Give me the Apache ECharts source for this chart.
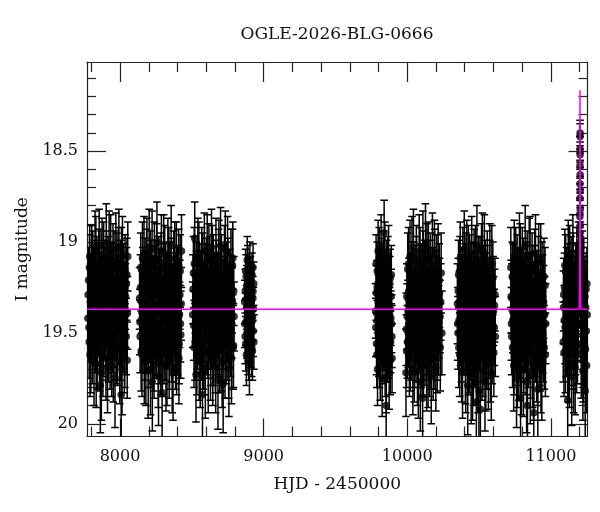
<!DOCTYPE html>
<html>
<head>
<meta charset="utf-8">
<script src="https://cdn.jsdelivr.net/npm/echarts@6/dist/echarts.min.js"></script>
<style>
html,body{margin:0;padding:0;background:#fff;}
#chart{width:600px;height:512px;}
</style>
</head>
<body>
<div id="chart"></div>
<script>
// ---- data: [HJD-2450000, I mag, error] ----
var season1 = [[7776,19.42,0.16],[7781,19.21,0.18],[7785,19.55,0.2],[7789,19.08,0.17],[7793,19.33,0.19],[7797,19.61,0.22],[7801,19.27,0.16],[7806,19.46,0.2],[7810,19.12,0.18],[7815,19.38,0.17],[7819,19.66,0.24],[7823,19.19,0.2],[7828,19.51,0.21],[7832,19.05,0.19],[7837,19.31,0.16],[7841,19.58,0.23],[7846,19.24,0.18],[7850,19.44,0.19],[7855,19.02,0.2],[7859,19.36,0.17],[7863,19.79,0.26],[7868,19.15,0.21],[7872,19.49,0.19],[7877,19.28,0.18],[7881,19.63,0.22],[7886,19.09,0.2],[7890,19.40,0.16],[7895,19.22,0.19],[7899,19.55,0.21],[7904,19.01,0.22],[7908,19.34,0.17],[7913,19.69,0.25],[7917,19.17,0.2],[7922,19.47,0.18],[7926,19.26,0.19],[7931,19.59,0.22],[7935,19.06,0.21],[7940,19.39,0.17],[7944,19.21,0.2],[7949,19.53,0.19],[7953,19.64,0.24],[7958,19.13,0.19],[7962,19.44,0.18],[7967,19.30,0.16],[7971,19.04,0.2],[7976,19.57,0.21],[7980,19.25,0.18],[7985,19.48,0.2],[7989,19.11,0.19],[7994,19.36,0.17],[7998,19.66,0.23],[8003,19.19,0.2],[8008,19.84,0.27],[8012,19.42,0.18],[8017,19.07,0.21],[8021,19.52,0.2],[8026,19.28,0.17],[8030,19.61,0.22],[8035,19.15,0.19],[8040,19.40,0.18],[8045,19.23,0.2],[8050,19.65,0.21],[8054,19.08,0.19]];
var season1b = [[7778,19.29,0.17],[7783,19.47,0.19],[7787,19.14,0.18],[7791,19.62,0.23],[7795,19.24,0.17],[7799,19.41,0.18],[7803,19.10,0.19],[7808,19.57,0.21],[7812,19.32,0.17],[7817,19.20,0.18],[7821,19.45,0.19],[7826,19.03,0.2],[7830,19.37,0.17],[7834,19.67,0.24],[7839,19.16,0.19],[7843,19.50,0.2],[7848,19.33,0.17],[7852,19.12,0.19],[7857,19.60,0.22],[7861,19.27,0.18],[7866,19.43,0.18],[7870,19.72,0.26],[7875,19.07,0.2],[7879,19.38,0.17],[7884,19.54,0.2],[7888,19.18,0.19],[7893,19.46,0.18],[7897,19.31,0.17],[7902,19.64,0.23],[7906,19.13,0.19],[7911,19.41,0.18],[7915,19.25,0.18],[7920,19.56,0.21],[7924,19.04,0.21],[7929,19.35,0.17],[7933,19.48,0.19],[7938,19.19,0.19],[7942,19.62,0.23],[7947,19.29,0.17],[7951,19.10,0.2],[7956,19.50,0.19],[7960,19.37,0.17],[7965,19.75,0.27],[7969,19.22,0.18],[7974,19.45,0.18],[7978,19.15,0.2],[7983,19.58,0.21],[7987,19.33,0.17],[7992,19.03,0.21],[7996,19.43,0.18],[8001,19.26,0.18],[8005,19.55,0.21],[8010,19.12,0.2],[8014,19.70,0.25],[8019,19.35,0.17],[8024,19.20,0.19],[8028,19.46,0.19],[8033,19.58,0.22],[8038,19.30,0.18],[8043,19.52,0.21],[8048,19.18,0.2],[8052,19.39,0.2]];
var season2 = [[8136,19.31,0.17],[8140,19.52,0.2],[8144,19.14,0.19],[8149,19.43,0.18],[8153,19.62,0.23],[8158,19.22,0.19],[8162,19.37,0.16],[8167,19.06,0.2],[8171,19.55,0.21],[8176,19.29,0.18],[8180,19.66,0.24],[8185,19.12,0.19],[8189,19.46,0.2],[8194,19.25,0.17],[8198,19.58,0.22],[8203,19.03,0.21],[8207,19.39,0.18],[8212,19.70,0.25],[8216,19.18,0.19],[8221,19.49,0.2],[8225,19.77,0.27],[8230,19.27,0.17],[8234,19.60,0.22],[8239,19.09,0.2],[8243,19.41,0.18],[8248,19.21,0.19],[8252,19.54,0.21],[8257,19.00,0.22],[8261,19.35,0.17],[8266,19.67,0.24],[8270,19.16,0.19],[8275,19.45,0.18],[8279,19.28,0.2],[8284,19.61,0.23],[8288,19.05,0.2],[8293,19.83,0.28],[8297,19.38,0.17],[8302,19.20,0.19],[8306,19.57,0.21],[8311,19.11,0.2],[8315,19.44,0.18],[8320,19.68,0.25],[8324,19.26,0.18],[8329,19.50,0.2],[8333,19.08,0.21],[8338,19.33,0.17],[8342,19.63,0.23],[8347,19.19,0.19],[8351,19.47,0.2],[8356,19.02,0.22],[8360,19.56,0.21],[8365,19.30,0.18],[8369,19.72,0.26],[8374,19.14,0.2],[8378,19.42,0.19],[8383,19.24,0.18],[8387,19.59,0.22],[8392,19.10,0.21],[8396,19.36,0.17],[8401,19.53,0.2],[8405,19.21,0.19],[8410,19.64,0.25],[8414,19.40,0.18],[8419,19.16,0.2],[8423,19.51,0.24],[8428,19.05,0.2]];
var season2b = [[8138,19.44,0.18],[8142,19.25,0.18],[8147,19.60,0.22],[8151,19.33,0.17],[8156,19.09,0.2],[8160,19.51,0.2],[8165,19.27,0.17],[8169,19.65,0.24],[8174,19.17,0.19],[8178,19.40,0.18],[8183,19.52,0.2],[8187,19.07,0.2],[8192,19.36,0.17],[8196,19.71,0.26],[8201,19.23,0.18],[8205,19.47,0.19],[8210,19.13,0.19],[8214,19.58,0.22],[8219,19.31,0.17],[8223,19.04,0.21],[8228,19.44,0.18],[8232,19.26,0.18],[8237,19.63,0.23],[8241,19.18,0.19],[8246,19.39,0.17],[8250,19.53,0.2],[8255,19.10,0.2],[8259,19.47,0.19],[8264,19.30,0.17],[8268,19.74,0.27],[8273,19.22,0.18],[8277,19.57,0.21],[8282,19.35,0.17],[8286,19.14,0.19],[8291,19.49,0.19],[8295,19.62,0.23],[8300,19.28,0.17],[8304,19.06,0.21],[8309,19.42,0.18],[8313,19.55,0.21],[8318,19.19,0.19],[8322,19.37,0.17],[8327,19.66,0.24],[8331,19.24,0.18],[8336,19.48,0.19],[8340,19.12,0.2],[8345,19.59,0.22],[8349,19.32,0.17],[8354,19.44,0.18],[8358,19.17,0.19],[8363,19.69,0.25],[8367,19.38,0.17],[8372,19.27,0.18],[8376,19.53,0.2],[8381,19.09,0.2],[8385,19.46,0.19],[8390,19.33,0.17],[8394,19.61,0.23],[8399,19.22,0.19],[8403,19.41,0.18],[8408,19.13,0.2],[8412,19.56,0.22],[8417,19.29,0.19],[8421,19.45,0.21],[8426,19.34,0.2]];
var season3 = [[8506,19.40,0.18],[8511,19.17,0.2],[8515,19.58,0.22],[8520,18.98,0.2],[8524,19.33,0.17],[8529,19.73,0.26],[8533,19.24,0.19],[8538,19.50,0.2],[8542,19.08,0.21],[8547,19.44,0.18],[8551,19.63,0.24],[8556,19.20,0.19],[8560,19.37,0.17],[8565,19.55,0.21],[8569,19.12,0.2],[8574,19.84,0.28],[8578,19.29,0.18],[8583,19.47,0.19],[8587,19.05,0.21],[8592,19.61,0.23],[8596,19.35,0.17],[8601,19.18,0.2],[8605,19.52,0.21],[8610,19.27,0.18],[8614,19.68,0.26],[8619,19.10,0.2],[8623,19.42,0.19],[8628,19.22,0.18],[8632,19.57,0.22],[8637,19.03,0.21],[8641,19.39,0.17],[8646,19.65,0.25],[8650,19.15,0.19],[8655,19.48,0.2],[8659,19.31,0.18],[8664,19.60,0.23],[8668,19.07,0.2],[8673,19.44,0.19],[8677,19.25,0.18],[8682,19.76,0.27],[8686,19.13,0.2],[8691,19.53,0.21],[8695,19.34,0.17],[8700,19.02,0.21],[8704,19.59,0.23],[8709,19.21,0.19],[8713,19.46,0.2],[8718,19.78,0.27],[8722,19.28,0.18],[8727,19.11,0.2],[8731,19.62,0.24],[8736,19.38,0.18],[8740,19.19,0.19],[8745,19.54,0.22],[8749,19.06,0.2],[8754,19.42,0.18],[8758,19.70,0.26],[8763,19.26,0.19],[8767,19.49,0.2],[8772,19.14,0.21],[8776,19.64,0.25],[8781,19.32,0.18],[8785,19.09,0.2],[8790,19.57,0.23],[8794,19.41,0.19]];
var season3b = [[8508,19.26,0.19],[8513,19.46,0.19],[8517,19.12,0.2],[8522,19.55,0.21],[8526,19.36,0.17],[8531,19.19,0.19],[8535,19.61,0.23],[8540,19.30,0.17],[8544,19.48,0.19],[8549,19.09,0.2],[8553,19.41,0.18],[8558,19.66,0.25],[8562,19.23,0.18],[8567,19.52,0.2],[8571,19.34,0.17],[8576,19.14,0.19],[8580,19.59,0.22],[8585,19.28,0.17],[8589,19.44,0.18],[8594,19.71,0.26],[8598,19.20,0.19],[8603,19.38,0.17],[8607,19.06,0.21],[8612,19.54,0.21],[8616,19.32,0.17],[8621,19.47,0.19],[8625,19.16,0.19],[8630,19.63,0.24],[8634,19.27,0.18],[8639,19.50,0.2],[8643,19.11,0.2],[8648,19.40,0.18],[8652,19.57,0.22],[8657,19.24,0.18],[8661,19.36,0.17],[8666,19.69,0.25],[8670,19.18,0.19],[8675,19.53,0.2],[8679,19.31,0.17],[8684,19.45,0.19],[8688,19.08,0.2],[8693,19.60,0.23],[8697,19.26,0.18],[8702,19.43,0.18],[8706,19.15,0.19],[8711,19.66,0.25],[8715,19.35,0.17],[8720,19.50,0.2],[8724,19.21,0.19],[8729,19.40,0.18],[8733,19.04,0.21],[8738,19.56,0.22],[8742,19.29,0.18],[8747,19.47,0.19],[8751,19.17,0.19],[8756,19.62,0.24],[8760,19.37,0.17],[8765,19.23,0.19],[8769,19.53,0.21],[8774,19.30,0.18],[8778,19.45,0.19],[8783,19.13,0.2],[8788,19.58,0.23],[8792,19.27,0.19]];
var season4 = [[8868,19.33,0.12],[8871,19.52,0.15],[8874,19.16,0.12],[8877,19.44,0.13],[8880,19.62,0.17],[8883,19.25,0.12],[8886,19.10,0.13],[8889,19.38,0.12],[8892,19.57,0.16],[8895,19.21,0.12],[8898,19.47,0.14],[8901,19.66,0.18],[8904,19.13,0.13],[8907,19.35,0.12],[8910,19.54,0.15],[8913,19.28,0.12],[8916,19.42,0.13],[8919,19.18,0.12],[8922,19.60,0.16],[8925,19.31,0.12],[8928,19.49,0.14],[8931,19.23,0.12]];
var season4b = [[8869,19.45,0.13],[8872,19.27,0.12],[8875,19.56,0.15],[8878,19.19,0.12],[8881,19.36,0.12],[8884,19.50,0.14],[8887,19.30,0.12],[8890,19.15,0.13],[8893,19.43,0.13],[8896,19.60,0.16],[8899,19.24,0.12],[8902,19.39,0.12],[8905,19.52,0.15],[8908,19.20,0.12],[8911,19.46,0.13],[8914,19.33,0.12],[8917,19.58,0.16],[8920,19.26,0.12],[8923,19.41,0.13],[8926,19.14,0.13],[8929,19.37,0.12],[8932,19.55,0.15]];
var season5 = [[9779,19.38,0.15],[9783,19.12,0.16],[9786,19.56,0.17],[9790,19.25,0.15],[9793,19.70,0.2],[9797,19.05,0.17],[9800,19.44,0.15],[9804,19.31,0.15],[9807,19.62,0.18],[9811,19.18,0.16],[9814,19.49,0.16],[9818,19.02,0.17],[9821,19.36,0.15],[9825,19.75,0.21],[9828,19.22,0.15],[9832,19.53,0.17],[9835,19.10,0.16],[9839,18.95,0.18],[9842,19.41,0.15],[9846,19.66,0.19],[9849,19.28,0.15],[9853,19.90,0.22],[9856,19.15,0.16],[9860,19.47,0.16],[9863,19.59,0.18],[9867,19.33,0.15],[9870,19.08,0.17],[9874,19.72,0.2],[9877,19.40,0.15],[9881,19.20,0.16],[9884,19.55,0.17],[9888,19.30,0.15],[9891,19.45,0.16],[9894,19.64,0.19]];
var season5b = [[9781,19.47,0.16],[9784,19.28,0.15],[9788,19.62,0.18],[9791,19.16,0.16],[9795,19.42,0.15],[9798,19.33,0.15],[9802,19.57,0.17],[9805,19.09,0.17],[9809,19.38,0.15],[9812,19.68,0.19],[9816,19.25,0.15],[9819,19.51,0.16],[9823,19.14,0.16],[9826,19.44,0.15],[9830,19.60,0.18],[9833,19.30,0.15],[9837,19.20,0.16],[9840,19.54,0.17],[9844,19.06,0.17],[9847,19.37,0.15],[9851,19.48,0.16],[9854,19.74,0.2],[9858,19.26,0.15],[9861,19.40,0.15],[9865,19.13,0.16],[9868,19.58,0.17],[9872,19.34,0.15],[9875,19.50,0.16],[9879,19.23,0.15],[9882,19.65,0.19],[9886,19.42,0.15],[9889,19.18,0.16],[9893,19.52,0.17]];
var season6 = [[9991,19.72,0.24],[9995,19.60,0.2],[9999,19.41,0.18],[10003,19.15,0.2],[10007,19.50,0.19],[10011,19.27,0.18],[10015,19.63,0.22],[10019,19.08,0.2],[10023,19.36,0.17],[10027,19.55,0.21],[10031,19.19,0.19],[10035,19.45,0.18],[10039,19.70,0.25],[10043,19.03,0.21],[10047,19.32,0.17],[10051,19.58,0.22],[10055,19.23,0.19],[10059,19.48,0.2],[10063,19.11,0.2],[10067,19.39,0.18],[10071,19.66,0.24],[10075,19.26,0.18],[10079,19.52,0.2],[10083,19.06,0.21],[10087,19.43,0.18],[10091,19.77,0.27],[10095,19.20,0.19],[10099,19.35,0.17],[10103,19.61,0.23],[10107,19.86,0.28],[10111,19.14,0.2],[10115,19.47,0.19],[10119,19.29,0.18],[10123,19.57,0.22],[10127,19.01,0.22],[10131,19.40,0.18],[10135,19.68,0.25],[10139,19.22,0.19],[10143,19.53,0.2],[10147,19.09,0.2],[10151,19.34,0.17],[10155,19.62,0.23],[10159,19.18,0.19],[10163,19.46,0.19],[10167,19.74,0.26],[10171,19.25,0.18],[10175,19.05,0.21],[10179,19.51,0.2],[10183,19.31,0.17],[10187,19.59,0.22],[10191,19.13,0.2],[10195,19.42,0.18],[10199,19.69,0.24],[10203,19.24,0.19],[10207,19.37,0.17],[10211,19.55,0.21],[10215,19.10,0.2],[10220,19.44,0.2],[10225,19.28,0.19],[10230,19.58,0.24],[10236,19.17,0.22],[10241,19.50,0.23]];
var season6b = [[9993,19.48,0.2],[9997,19.30,0.18],[10001,19.55,0.2],[10005,19.38,0.17],[10009,19.12,0.2],[10013,19.45,0.18],[10017,19.33,0.17],[10021,19.60,0.22],[10025,19.24,0.18],[10029,19.42,0.18],[10033,19.07,0.21],[10037,19.53,0.2],[10041,19.36,0.17],[10045,19.19,0.19],[10049,19.64,0.24],[10053,19.41,0.18],[10057,19.28,0.17],[10061,19.56,0.21],[10065,19.16,0.19],[10069,19.46,0.19],[10073,19.33,0.17],[10077,19.71,0.26],[10081,19.21,0.19],[10085,19.50,0.2],[10089,19.12,0.2],[10093,19.39,0.17],[10097,19.58,0.22],[10101,19.27,0.18],[10105,19.44,0.18],[10109,19.04,0.21],[10113,19.62,0.23],[10117,19.35,0.17],[10121,19.18,0.19],[10125,19.49,0.2],[10129,19.31,0.17],[10133,19.55,0.21],[10137,19.10,0.2],[10141,19.43,0.18],[10145,19.66,0.25],[10149,19.26,0.18],[10153,19.47,0.19],[10157,19.37,0.17],[10161,19.15,0.2],[10165,19.59,0.22],[10169,19.32,0.17],[10173,19.44,0.18],[10177,19.22,0.19],[10181,19.63,0.24],[10185,19.40,0.18],[10189,19.08,0.2],[10193,19.52,0.2],[10197,19.29,0.18],[10201,19.46,0.19],[10205,19.16,0.2],[10209,19.60,0.23],[10213,19.34,0.18],[10218,19.52,0.21],[10223,19.21,0.2],[10228,19.41,0.2],[10233,19.33,0.21]];
var season7 = [[10349,19.34,0.22],[10353,19.50,0.2],[10357,19.18,0.19],[10361,19.43,0.18],[10365,19.62,0.23],[10369,19.09,0.2],[10373,19.37,0.17],[10377,19.56,0.21],[10381,19.22,0.19],[10385,19.71,0.26],[10389,19.29,0.18],[10393,19.47,0.19],[10397,19.04,0.21],[10401,19.40,0.18],[10405,19.65,0.24],[10409,19.15,0.2],[10413,19.53,0.2],[10417,19.26,0.18],[10421,19.79,0.27],[10425,19.11,0.2],[10429,19.45,0.18],[10433,19.60,0.23],[10437,19.20,0.19],[10441,19.36,0.17],[10445,19.74,0.26],[10449,19.07,0.21],[10453,19.49,0.19],[10457,19.31,0.18],[10461,19.66,0.24],[10465,19.13,0.2],[10469,19.42,0.18],[10473,19.57,0.22],[10477,19.24,0.19],[10481,19.88,0.29],[10485,19.02,0.22],[10489,19.38,0.17],[10493,19.69,0.25],[10497,19.17,0.2],[10501,19.51,0.2],[10505,19.28,0.18],[10509,19.92,0.3],[10513,19.46,0.19],[10517,19.10,0.2],[10521,19.63,0.24],[10525,19.33,0.17],[10529,19.21,0.19],[10533,19.55,0.21],[10537,19.06,0.21],[10541,19.77,0.27],[10545,19.41,0.18],[10549,19.25,0.19],[10553,19.59,0.22],[10557,19.14,0.2],[10561,19.48,0.19],[10565,19.67,0.25],[10569,19.30,0.18],[10573,19.19,0.2],[10577,19.54,0.21],[10581,19.39,0.18],[10585,19.72,0.26],[10589,19.12,0.21],[10593,19.45,0.19],[10598,19.27,0.19],[10603,19.61,0.24],[10608,19.35,0.2],[10613,19.52,0.22]];
var season7b = [[10351,19.45,0.2],[10355,19.27,0.18],[10359,19.58,0.22],[10363,19.33,0.17],[10367,19.16,0.19],[10371,19.49,0.19],[10375,19.25,0.18],[10379,19.64,0.24],[10383,19.38,0.17],[10387,19.12,0.2],[10391,19.53,0.2],[10395,19.31,0.17],[10399,19.44,0.18],[10403,19.20,0.19],[10407,19.69,0.25],[10411,19.36,0.17],[10415,19.08,0.2],[10419,19.51,0.2],[10423,19.28,0.18],[10427,19.61,0.23],[10431,19.40,0.18],[10435,19.15,0.19],[10439,19.55,0.21],[10443,19.24,0.18],[10447,19.46,0.19],[10451,19.34,0.17],[10455,19.72,0.26],[10459,19.19,0.19],[10463,19.43,0.18],[10467,19.58,0.22],[10471,19.27,0.18],[10475,19.11,0.2],[10479,19.50,0.2],[10483,19.37,0.17],[10487,19.64,0.24],[10491,19.22,0.19],[10495,19.45,0.19],[10499,19.82,0.28],[10503,19.33,0.17],[10507,19.16,0.19],[10511,19.56,0.21],[10515,19.29,0.18],[10519,19.47,0.19],[10523,19.05,0.21],[10527,19.62,0.23],[10531,19.39,0.18],[10535,19.25,0.18],[10539,19.52,0.2],[10543,19.18,0.19],[10547,19.68,0.25],[10551,19.35,0.17],[10555,19.44,0.18],[10559,19.21,0.19],[10563,19.59,0.22],[10567,19.31,0.17],[10571,19.48,0.19],[10575,19.10,0.2],[10579,19.64,0.24],[10583,19.27,0.18],[10587,19.42,0.19],[10591,19.56,0.22],[10596,19.20,0.2],[10601,19.38,0.19],[10606,19.47,0.21],[10611,19.29,0.2]];
var season8 = [[10721,19.14,0.22],[10725,19.45,0.2],[10729,19.31,0.19],[10733,19.58,0.22],[10737,19.20,0.19],[10741,19.68,0.25],[10745,19.09,0.21],[10749,19.40,0.18],[10753,19.52,0.2],[10757,19.26,0.18],[10761,19.75,0.27],[10765,19.16,0.2],[10769,19.47,0.19],[10773,19.35,0.17],[10777,19.63,0.24],[10781,19.05,0.21],[10785,19.42,0.18],[10789,19.86,0.3],[10793,19.23,0.19],[10797,19.56,0.21],[10801,19.12,0.2],[10805,19.38,0.17],[10809,19.70,0.26],[10813,19.28,0.18],[10817,19.50,0.2],[10821,19.02,0.22],[10825,19.44,0.18],[10829,19.61,0.23],[10833,19.19,0.19],[10837,19.90,0.31],[10841,19.33,0.17],[10845,19.54,0.21],[10849,19.08,0.21],[10853,19.41,0.18],[10857,19.73,0.27],[10861,19.25,0.19],[10865,19.48,0.19],[10869,19.15,0.2],[10873,19.66,0.25],[10877,19.37,0.17],[10881,19.94,0.32],[10885,19.21,0.19],[10889,19.53,0.21],[10893,19.06,0.21],[10897,19.43,0.18],[10901,19.64,0.24],[10905,19.29,0.18],[10909,19.81,0.29],[10913,19.17,0.2],[10917,19.50,0.2],[10921,19.34,0.18],[10925,19.59,0.23],[10929,19.11,0.21],[10933,19.46,0.19],[10937,19.71,0.27],[10942,19.27,0.2],[10947,19.55,0.22],[10952,19.19,0.21],[10957,19.40,0.21],[10962,19.62,0.23]];
var season8b = [[10723,19.30,0.2],[10727,19.52,0.21],[10731,19.19,0.19],[10735,19.43,0.18],[10739,19.36,0.17],[10743,19.61,0.23],[10747,19.25,0.18],[10751,19.48,0.19],[10755,19.12,0.2],[10759,19.57,0.22],[10763,19.33,0.17],[10767,19.66,0.25],[10771,19.22,0.19],[10775,19.45,0.18],[10779,19.29,0.18],[10783,19.54,0.21],[10787,19.10,0.2],[10791,19.40,0.18],[10795,19.69,0.26],[10799,19.26,0.18],[10803,19.47,0.19],[10807,19.17,0.19],[10811,19.60,0.23],[10815,19.36,0.17],[10819,19.24,0.18],[10823,19.52,0.2],[10827,19.31,0.17],[10831,19.77,0.28],[10835,19.14,0.2],[10839,19.44,0.18],[10843,19.58,0.22],[10847,19.27,0.18],[10851,19.39,0.17],[10855,19.07,0.21],[10859,19.62,0.24],[10863,19.34,0.17],[10867,19.50,0.2],[10871,19.21,0.19],[10875,19.45,0.19],[10879,19.71,0.27],[10883,19.29,0.18],[10887,19.13,0.2],[10891,19.56,0.21],[10895,19.38,0.17],[10899,19.24,0.19],[10903,19.49,0.2],[10907,19.65,0.25],[10911,19.32,0.17],[10915,19.10,0.2],[10919,19.43,0.19],[10923,19.57,0.22],[10927,19.26,0.18],[10931,19.68,0.26],[10935,19.36,0.18],[10939,19.20,0.2],[10944,19.51,0.21],[10949,19.33,0.2],[10954,19.58,0.23],[10959,19.24,0.21],[10964,19.45,0.22]];
var season9 = [[11086,19.55,0.22],[11089,19.29,0.2],[11093,19.43,0.19],[11097,19.13,0.2],[11101,19.60,0.23],[11105,19.35,0.18],[11109,19.22,0.19],[11113,19.50,0.21],[11117,19.87,0.3],[11121,19.09,0.21],[11125,19.41,0.19],[11129,19.66,0.25],[11133,19.26,0.19],[11137,19.52,0.21],[11141,19.17,0.2],[11145,19.74,0.27],[11149,19.38,0.18],[11153,19.06,0.21],[11157,19.58,0.23],[11161,19.31,0.18],[11165,19.47,0.2],[11169,19.69,0.26],[11173,19.20,0.19],[11177,19.44,0.19],[11181,19.12,0.2],[11185,19.56,0.22],[11189,19.33,0.18],[11193,19.08,0.19],[11207,19.28,0.19],[11211,19.62,0.24],[11215,19.39,0.19],[11219,19.15,0.21],[11223,19.71,0.27],[11227,19.46,0.2],[11231,19.27,0.19],[11235,19.57,0.23],[11239,19.82,0.29],[11243,19.36,0.19],[11247,19.49,0.21],[11251,19.23,0.2]];
var season9b = [[11088,19.36,0.2],[11091,19.61,0.24],[11095,19.25,0.19],[11099,19.47,0.2],[11103,19.16,0.2],[11107,19.53,0.21],[11111,19.30,0.18],[11115,19.42,0.19],[11119,19.20,0.19],[11123,19.64,0.24],[11127,19.34,0.18],[11131,19.11,0.2],[11135,19.48,0.2],[11139,19.38,0.18],[11143,19.57,0.22],[11147,19.24,0.19],[11151,19.45,0.19],[11155,19.15,0.2],[11159,19.68,0.26],[11163,19.36,0.18],[11167,19.27,0.19],[11171,19.52,0.21],[11175,19.31,0.18],[11179,19.60,0.23],[11183,19.21,0.19],[11187,19.46,0.2],[11191,19.38,0.19],[11195,19.25,0.19],[11209,19.45,0.2],[11213,19.22,0.19],[11217,19.56,0.22],[11221,19.33,0.19],[11225,19.63,0.25],[11229,19.18,0.2],[11233,19.41,0.2],[11237,19.30,0.19],[11241,19.59,0.24],[11245,19.26,0.2],[11249,19.68,0.26],[11253,19.40,0.21]];
var eventPts = [[11201,19.04,0.12],[11201.5,18.95,0.1],[11202,18.86,0.09],[11202.3,18.76,0.08],[11202.6,18.68,0.08],[11202.8,18.58,0.07],[11203,18.49,0.07],[11203.2,18.42,0.07],[11203.4,18.40,0.07],[11203.6,18.52,0.07],[11203.8,18.63,0.08],[11204,18.72,0.08],[11204.3,18.82,0.09],[11204.7,18.91,0.1],[11205.2,19.00,0.11],[11205.8,19.10,0.13]];
// model curve (magenta)
var modelHJD = [7770, 11196, 11199, 11201, 11202, 11203, 11204, 11205, 11207, 11210, 11255];
var modelMag = [19.37, 19.37, 19.33, 19.1, 18.7, 18.165, 18.7, 19.1, 19.33, 19.37, 19.37];
// axes
var X_MIN = 7770, X_MAX = 11255;
var Y_MIN = 18.01, Y_MAX = 20.07;
var xMajor = [8000, 9000, 10000, 11000];
var xMinor = [7800, 8200, 8400, 8600, 8800, 9200, 9400, 9600, 9800, 10200, 10400, 10600, 10800, 11200];
var yMajor = [18.5, 19, 19.5, 20];
var yMinor = [18.1, 18.2, 18.3, 18.4, 18.6, 18.7, 18.8, 18.9, 19.1, 19.2, 19.3, 19.4, 19.6, 19.7, 19.8, 19.9];
var titleText = 'OGLE-2026-BLG-0666';
var xName = 'HJD - 2450000';
var yName = 'I magnitude';

var allPts = [].concat(season1, season1b, season2, season2b, season3, season3b, season4, season4b,
  season5, season5b, season6, season6b, season7, season7b, season8, season8b, season9, season9b, eventPts);
var modelData = modelHJD.map(function (t, i) { return [t, modelMag[i]]; });

var FONT = 'DejaVu Serif';
var AX = '#222';
function plain(v) { return String(v); }

function mkX(pos, vals, len, withLabel, withLine) {
  return {
    type: 'value', position: pos, min: X_MIN, max: X_MAX,
    axisLine: { show: withLine, lineStyle: { color: AX, width: 1.2 } },
    axisTick: { show: true, inside: true, length: len, customValues: vals, lineStyle: { color: AX, width: 1.2 } },
    axisLabel: { show: withLabel, customValues: vals, formatter: plain, margin: 12, fontFamily: FONT, fontSize: 16, color: '#111' },
    splitLine: { show: false },
    name: withLabel ? xName : '', nameLocation: 'middle', nameGap: 40,
    nameTextStyle: { fontFamily: FONT, fontSize: 17, color: '#111' }
  };
}
function mkY(pos, vals, len, withLabel, withLine) {
  return {
    type: 'value', position: pos, min: Y_MIN, max: Y_MAX, inverse: true,
    axisLine: { show: withLine, lineStyle: { color: AX, width: 1.2 } },
    axisTick: { show: true, inside: true, length: len, customValues: vals, lineStyle: { color: AX, width: 1.2 } },
    axisLabel: { show: withLabel, customValues: vals, formatter: plain, margin: 9, fontFamily: FONT, fontSize: 16, color: '#111' },
    splitLine: { show: false },
    name: withLabel ? yName : '', nameLocation: 'middle', nameGap: 56,
    nameTextStyle: { fontFamily: FONT, fontSize: 17, color: '#111' }
  };
}

var chart = echarts.init(document.getElementById('chart'), null, { renderer: 'canvas' });
chart.setOption({
  animation: false,
  backgroundColor: '#fff',
  title: {
    text: titleText, left: 337, top: 26, textAlign: 'center', padding: 0,
    textStyle: { fontFamily: FONT, fontSize: 17, fontWeight: 'normal', color: '#111' }
  },
  grid: { left: 87, right: 12.5, top: 62, bottom: 75.5, containLabel: false, outerBoundsMode: 'none' },
  xAxis: [
    mkX('bottom', xMajor, 18, true, true),
    mkX('bottom', xMinor, 10, false, false),
    mkX('top', xMajor, 20, false, true),
    mkX('top', xMinor, 10, false, false)
  ],
  yAxis: [
    mkY('left', yMajor, 19, true, true),
    mkY('left', yMinor, 9, false, false),
    mkY('right', yMajor, 19, false, true),
    mkY('right', yMinor, 9, false, false)
  ],
  series: [
    {
      type: 'custom', xAxisIndex: 0, yAxisIndex: 0, clip: true, z: 2,
      encode: { x: 0, y: 1 },
      data: allPts,
      renderItem: function (params, api) {
        var t = api.value(0), m = api.value(1), e = api.value(2);
        var p1 = api.coord([t, m - e]);
        var p2 = api.coord([t, m + e]);
        var cs = params.coordSys;
        var yTop = Math.max(Math.min(p1[1], p2[1]), cs.y);
        var yBot = Math.min(Math.max(p1[1], p2[1]), cs.y + cs.height);
        var hw = 3.8;
        var st = { stroke: '#000', lineWidth: 1.5 };
        var kids = [{ type: 'line', shape: { x1: p1[0], y1: yTop, x2: p1[0], y2: yBot }, style: st }];
        if (Math.min(p1[1], p2[1]) >= cs.y) kids.push({ type: 'line', shape: { x1: p1[0] - hw, y1: yTop, x2: p1[0] + hw, y2: yTop }, style: st });
        if (Math.max(p1[1], p2[1]) <= cs.y + cs.height) kids.push({ type: 'line', shape: { x1: p1[0] - hw, y1: yBot, x2: p1[0] + hw, y2: yBot }, style: st });
        return { type: 'group', children: kids };
      }
    },
    {
      type: 'scatter', xAxisIndex: 0, yAxisIndex: 0, z: 3,
      data: allPts.map(function (p) { return [p[0], p[1]]; }),
      symbol: 'circle', symbolSize: 7.5,
      itemStyle: { color: '#000' }
    },
    {
      type: 'line', xAxisIndex: 0, yAxisIndex: 0, z: 5,
      data: modelData, showSymbol: false, symbol: 'none',
      lineStyle: { color: '#ff00ff', width: 1.5 }
    }
  ]
});
</script>
</body>
</html>
